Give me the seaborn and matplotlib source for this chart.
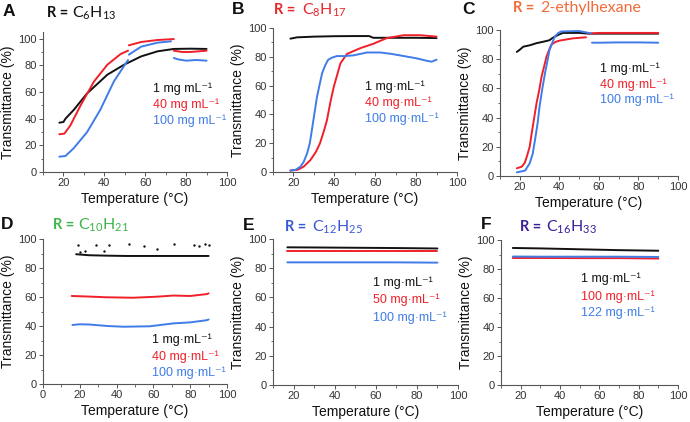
import numpy as np
import pandas as pd
import matplotlib
matplotlib.use("Agg")
import matplotlib.pyplot as plt
import seaborn as sns
from matplotlib.ticker import MultipleLocator

# ---------------- data ----------------
# Panel A, R = C6H13
a_black_T = [18, 20, 21, 25, 31.6, 41.5, 49.7, 58, 66, 74, 82, 90]
a_black_y = [37, 37.5, 40, 46.5, 59, 73, 80.5, 86.7, 90.5, 92.3, 92.5, 92.3]
a_red1_T = [18, 20.5, 23.4, 28.4, 35, 41.5, 48, 51.6]
a_red1_y = [28.3, 28.8, 35, 50, 68, 80.5, 88.5, 91]
a_red2_T = [52, 58, 66, 74]
a_red2_y = [95, 97.5, 99, 99.7]
a_red3_T = [74, 78, 82, 86, 90]
a_red3_y = [91, 90, 90, 90.5, 91]
a_blue1_T = [18, 21, 25, 31.6, 38, 44.7, 51.6]
a_blue1_y = [11.5, 12, 17.8, 30, 46.6, 68, 84]
a_blue2_T = [52, 58, 66, 72.6]
a_blue2_y = [88, 94, 97, 98]
a_blue3_T = [74, 76, 80, 85, 90]
a_blue3_y = [85.5, 84.5, 83.5, 84, 83.5]

# Panel B, R = C8H17
b_black_T = [18.5, 21.7, 30, 40, 50, 57, 59, 70, 80, 90]
b_black_y = [92.6, 93.5, 94, 94.3, 94.4, 94.4, 93.2, 93.2, 93.2, 93]
b_red_T = [18.5, 22, 25, 28.3, 31, 33, 35, 36.4, 38, 39.7, 41.5, 43, 46.2,
           52.7, 59, 65.7, 74, 82, 90]
b_red_y = [1, 1.5, 3.7, 8.3, 14, 20, 29, 36, 48, 59, 68, 75.5, 82,
           86, 89, 93, 95, 95, 94]
b_blue_T = [18.5, 21, 23.4, 25, 26.7, 28, 29, 30.3, 31.5, 33, 34, 35.5, 37, 39,
            41.3, 45, 49.4, 56, 62.4, 68, 74, 80, 85, 87.6, 90]
b_blue_y = [1, 1.5, 3.7, 7, 13, 20, 29, 41, 52, 62, 68.5, 74, 78, 79.5,
            80.5, 80.5, 81, 83, 83, 82, 80.5, 79, 77.3, 76.6, 78]

# Panel C, R = 2-ethylhexane
c_black_T = [18.5, 20, 21.8, 25, 28.5, 32, 35, 36.5, 38.5, 40, 41.8, 50, 55, 60, 70, 80, 90]
c_black_y = [85, 86.5, 88.6, 89.5, 91, 92, 93, 94.5, 96, 97, 98, 98, 97.5, 97.5, 97.5, 97.5, 97.5]
c_red1_T = [18.5, 21, 22.5, 23.5, 25, 26, 27.3, 28.5, 30, 31, 32.3, 33.5, 35, 36, 38, 40, 47, 53.5]
c_red1_y = [5.3, 6.4, 9, 13, 20, 29, 40, 50, 60, 68, 75, 81.7, 87, 90, 91.8, 92.7, 94.3, 95]
c_red2_T = [54.5, 60, 70, 80, 90]
c_red2_y = [97.5, 98, 98, 98, 98]
c_blue1_T = [18.5, 22.7, 25, 26.5, 27.7, 29, 30, 31.3, 32.7, 34, 35, 36.5, 37.7, 39.5, 41, 50, 56]
c_blue1_y = [2.5, 3.7, 8.7, 15, 24.7, 36, 47.5, 59, 70, 79, 86, 91.5, 95.5, 98, 99, 99.3, 97.7]
c_blue2_T = [56.5, 60, 70, 80, 90]
c_blue2_y = [91.3, 91.3, 91.5, 91.5, 91.3]

# Panel D, R = C10H21
d_black_T = [18, 25, 35, 45, 55, 65, 75, 85, 90]
d_black_y = [89.5, 88.8, 88.5, 88.3, 88.3, 88.3, 88.3, 88.3, 88.3]
d_black_pts_T = [19, 20, 23, 29, 33, 36, 47, 55, 62, 71, 82, 85, 88, 90]
d_black_pts_y = [96, 91, 92, 96, 92, 96, 96.5, 95.5, 93, 96.5, 96, 95, 96.5, 96]
d_red_T = [15.6, 25, 34.6, 49, 61.8, 70.8, 80, 89, 90]
d_red_y = [60.7, 60.3, 59.8, 59.5, 60.2, 61, 60.7, 62, 62.5]
d_blue_T = [16, 20, 25.5, 35, 43.7, 58, 70.8, 80, 89, 90]
d_blue_y = [40.7, 41.2, 41, 40, 39.5, 39.8, 41.8, 42.5, 44, 44.5]

# Panel E, R = C12H25
e_T = [17, 30, 50, 70, 90]
e_black_y = [94.3, 94.2, 94, 93.8, 93.5]
e_red_y = [91.5, 91.5, 91.5, 91.5, 91.5]
e_blue_y = [84, 84, 84, 84, 83.8]

# Panel F, R = C16H33
f_T = [16, 30, 50, 70, 90]
f_black_y = [94.5, 94.2, 93.6, 93, 92.6]
f_blue_y = [88.6, 88.5, 88.5, 88.5, 88.3]
f_red_y = [87.6, 87.6, 87.5, 87.5, 87.2]

legend_A = ["1 mg mL⁻¹", "40 mg mL⁻¹", "100 mg mL⁻¹"]
legend_B = ["1 mg·mL⁻¹", "40 mg·mL⁻¹", "100 mg·mL⁻¹"]
legend_C = ["1 mg·mL⁻¹", "40 mg·mL⁻¹", "100 mg·mL⁻¹"]
legend_D = ["1 mg·mL⁻¹", "40 mg·mL⁻¹", "100 mg·mL⁻¹"]
legend_E = ["1 mg·mL⁻¹", "50 mg·mL⁻¹", "100 mg·mL⁻¹"]
legend_F = ["1 mg·mL⁻¹", "100 mg·mL⁻¹", "122 mg·mL⁻¹"]

# ---------------- style ----------------
sns.set_theme(style="ticks")
plt.rcParams["font.family"] = ["Liberation Sans", "DejaVu Sans"]
plt.rcParams["mathtext.fontset"] = "custom"
plt.rcParams["mathtext.rm"] = "Lato"
plt.rcParams["mathtext.it"] = "Lato:italic"
plt.rcParams["mathtext.bf"] = "Lato:bold"

BLACK = "#111111"
RED = "#f0202a"
BLUE = "#3f7ce8"
COLS = [BLACK, RED, BLUE]

W, H = 690, 422
fig = plt.figure(figsize=(W / 100, H / 100), dpi=100)


def px_axes(left, right, bottom, top):
    return fig.add_axes([left / W, 1 - bottom / H, (right - left) / W, (bottom - top) / H])


def make_df(series):
    rows = []
    for s_idx, segs in enumerate(series):
        for g_idx, (T, y) in enumerate(segs):
            for t, v in zip(T, y):
                rows.append({"T": t, "y": v, "series": s_idx, "seg": g_idx})
    return pd.DataFrame(rows)


def style_axes(ax, xlim, ylim, xmin_tick):
    ax.set_xlim(*xlim)
    ax.set_ylim(*ylim)
    ax.xaxis.set_minor_locator(MultipleLocator(10))
    ax.yaxis.set_minor_locator(MultipleLocator(10))
    ax.set_xticks([t for t in range(xmin_tick, 101, 20)])
    ax.set_yticks(range(0, 101, 20))
    for s in ["top", "right"]:
        ax.spines[s].set_visible(False)
    for s in ["left", "bottom"]:
        ax.spines[s].set_color("#555555")
        ax.spines[s].set_linewidth(0.8)
    ax.tick_params(which="major", direction="out", length=3, width=0.7,
                   colors="#555555", labelcolor="#333333", labelsize=8, pad=1.5)
    ax.tick_params(which="minor", direction="out", length=1.8, width=0.6, colors="#555555")
    ax.set_xlabel("Temperature (°C)", fontsize=10, color="#111111", labelpad=2.5)
    ax.set_ylabel("Transmittance (%)", fontsize=10, color="#111111", labelpad=2.5)
    ax.set_facecolor("white")


def draw(ax, series):
    df = make_df(series)
    for s_idx in sorted(df["series"].unique()):
        sub = df[df["series"] == s_idx]
        sns.lineplot(data=sub, x="T", y="y", units="seg", estimator=None, sort=False,
                     color=COLS[s_idx], lw=1.4, ax=ax, legend=False)
    ax.set_xlabel("")
    ax.set_ylabel("")


def legend_text(x, ys, labels):
    for yy, lab, c in zip(ys, labels, COLS):
        fig.text(x / W, 1 - yy / H, lab, color=c, fontsize=9, va="center", ha="left")


def title(letter, lx, ly, rx, fx, ty, formula, color):
    fig.text(lx / W, 1 - ly / H, letter, fontsize=12.5, fontweight="bold", color="#111111",
             va="center", ha="left")
    fig.text(rx / W, 1 - ty / H, "R =", fontsize=10.5, fontweight="bold", color=color,
             va="center", ha="left", family=["Lato", "DejaVu Sans"])
    fig.text(fx / W, 1 - ty / H, formula, fontsize=11.5, color=color,
             va="center", ha="left", family=["Lato", "DejaVu Sans"])


# Panel A
axA = px_axes(43, 227, 172, 32)
draw(axA, [[(a_black_T, a_black_y)],
           [(a_red1_T, a_red1_y), (a_red2_T, a_red2_y), (a_red3_T, a_red3_y)],
           [(a_blue1_T, a_blue1_y), (a_blue2_T, a_blue2_y), (a_blue3_T, a_blue3_y)]])
style_axes(axA, (10, 100), (0, 105), 20)
legend_text(153, [89, 105, 121], legend_A)
title("A", 3, 12, 47, 72, 13, "C$_{6}$H$_{13}$", "#111111")

# Panel B
axB = px_axes(273, 457, 172, 28)
draw(axB, [[(b_black_T, b_black_y)], [(b_red_T, b_red_y)], [(b_blue_T, b_blue_y)]])
style_axes(axB, (10, 100), (0, 100), 20)
legend_text(365, [87, 103, 119], legend_B)
title("B", 232, 9, 274, 302, 10, "C$_{8}$H$_{17}$", "#e8262b")

# Panel C
axC = px_axes(500, 678, 176, 30)
draw(axC, [[(c_black_T, c_black_y)],
           [(c_red1_T, c_red1_y), (c_red2_T, c_red2_y)],
           [(c_blue1_T, c_blue1_y), (c_blue2_T, c_blue2_y)]])
style_axes(axC, (10, 100), (0, 100), 20)
legend_text(600, [69, 85, 100], legend_C)
title("C", 462, 9, 513, 540, 8, "2-ethylhexane", "#f26b3a")

# Panel D
axD = px_axes(43, 227, 384, 239)
draw(axD, [[(d_black_T, d_black_y)], [(d_red_T, d_red_y)], [(d_blue_T, d_blue_y)]])
sns.scatterplot(x=d_black_pts_T, y=d_black_pts_y, color=BLACK, s=3, linewidth=0, ax=axD)
style_axes(axD, (0, 100), (0, 100), 0)
legend_text(152, [340, 357, 373], legend_D)
title("D", 1, 224, 53, 78, 225, "C$_{10}$H$_{21}$", "#3db54a")

# Panel E
axE = px_axes(273, 458, 385, 239)
draw(axE, [[(e_T, e_black_y)], [(e_T, e_red_y)], [(e_T, e_blue_y)]])
style_axes(axE, (10, 100), (0, 100), 20)
legend_text(373, [283, 300, 318], legend_E)
title("E", 243, 226, 285, 312, 227, "C$_{12}$H$_{25}$", "#3a57d6")

# Panel F
axF = px_axes(501, 678, 385, 240)
draw(axF, [[(f_T, f_black_y)], [(f_T, f_red_y)], [(f_T, f_blue_y)]])
style_axes(axF, (10, 100), (0, 100), 20)
legend_text(581, [279, 297, 313], legend_F)
title("F", 481, 224, 520, 546, 227, "C$_{16}$H$_{33}$", "#3a1e9a")

fig.savefig("out.png", dpi=100, facecolor="white")
